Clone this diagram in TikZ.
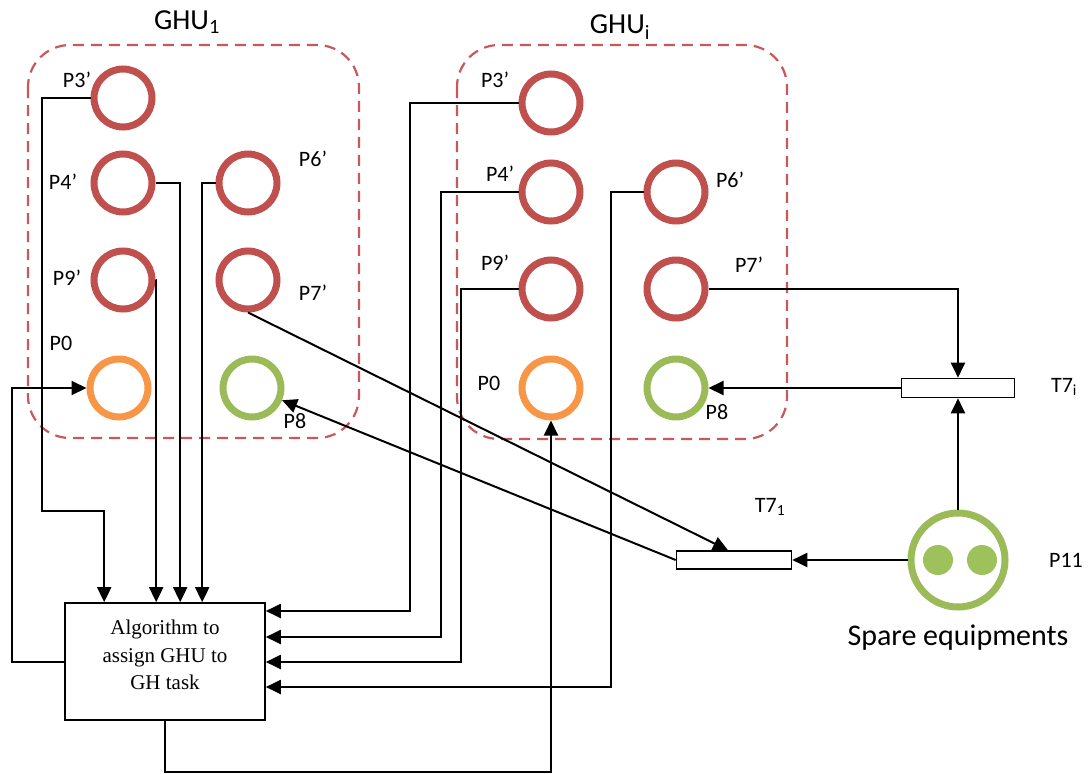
\documentclass[tikz,border=0pt]{standalone}
\usepackage{fontspec}
\setmainfont{Carlito}
\newfontfamily\tnr{Liberation Serif}
\usetikzlibrary{arrows.meta}
\definecolor{ringred}{HTML}{C0504D}
\definecolor{ringorange}{HTML}{F79646}
\definecolor{ringgreen}{HTML}{9BBB59}
\definecolor{tokgreen}{HTML}{9DC25C}
\definecolor{boxred}{HTML}{C9585A}
\begin{document}
\begin{tikzpicture}[x=1pt,y=-1pt,
  place/.style={circle,draw=#1,line width=7pt,minimum size=58pt,inner sep=0pt},
  lbl/.style={font=\fontsize{22}{26}\selectfont,inner sep=0pt},
  ghu/.style={draw=boxred,line width=2.2pt,dash pattern=on 11pt off 7pt,rounded corners=42pt},
  trans/.style={draw,fill=white,line width=1.6pt,minimum height=19pt,inner sep=0pt},
  conn/.style={line width=2pt},
  arr/.style={conn,-{Triangle[length=15pt,width=14pt]}},
  token/.style={circle,fill=tokgreen,minimum size=30pt,inner sep=0pt}
]
\useasboundingbox (0,0) rectangle (1088,774);
% group boxes
\draw[ghu] (28,45) rectangle (359,438);
\draw[ghu] (457,45) rectangle (787,439);
\node[font=\fontsize{29}{32}\selectfont] (ghu1) at (187,22) {GHU\textsubscript{1}};
\node[font=\fontsize{29}{32}\selectfont] (ghui) at (620,27) {GHU\textsubscript{i}};
% places GHU1
\node[place=ringred] (p3a) at (123,98) {};
\node[place=ringred] (p4a) at (123,183) {};
\node[place=ringred] (p9a) at (123,280) {};
\node[place=ringorange] (p0a) at (119,388) {};
\node[place=ringred] (p6a) at (248,183) {};
\node[place=ringred] (p7a) at (248,280) {};
\node[place=ringgreen] (p8a) at (252,388) {};
\node[lbl] (lp3a) at (77,80) {P3’};
\node[lbl] (lp4a) at (63,182) {P4’};
\node[lbl] (lp9a) at (67,278) {P9’};
\node[lbl] (lp0a) at (61,343) {P0};
\node[lbl] (lp6a) at (313,159) {P6’};
\node[lbl] (lp7a) at (313,293) {P7’};
\node[lbl] (lp8a) at (295,421) {P8};
% places GHUi
\node[place=ringred] (p3b) at (551,103) {};
\node[place=ringred] (p4b) at (551,192) {};
\node[place=ringred] (p9b) at (551,289) {};
\node[place=ringorange] (p0b) at (551,388) {};
\node[place=ringred] (p6b) at (676,192) {};
\node[place=ringred] (p7b) at (676,289) {};
\node[place=ringgreen] (p8b) at (676,388) {};
\node[lbl] (lp3b) at (495,80) {P3’};
\node[lbl] (lp4b) at (500,174) {P4’};
\node[lbl] (lp9b) at (495,263) {P9’};
\node[lbl] (lp0b) at (489,383) {P0};
\node[lbl] (lp6b) at (730,180) {P6’};
\node[lbl] (lp7b) at (749,265) {P7’};
\node[lbl] (lp8b) at (717,412) {P8};
% transitions
\node[trans,minimum width=113pt] (t7i) at (958,388) {};
\node[trans,minimum width=115pt,minimum height=18pt] (t71) at (734,560) {};
\node[lbl] (lt7i) at (1064,387) {T7\textsubscript{i}};
\node[lbl] (lt71) at (770,507) {T7\textsubscript{1}};
% spare equipment
\node[place=ringgreen,minimum size=94pt] (p11) at (958,560) {};
\node[token] (tk1) at (938,560) {};
\node[token] (tk2) at (982,560) {};
\node[lbl] (lp11) at (1066,560) {P11};
\node[font=\fontsize{30}{34}\selectfont] (spare) at (958,638) {Spare equipments};
% algorithm box
\node[draw,line width=1.6pt,minimum width=200pt,minimum height=117pt,inner sep=0pt] (alg) at (165,661.5) {};
\node[align=center,font=\tnr\fontsize{21}{27.5}\selectfont] (algt) at (165,655) {Algorithm to\\assign GHU to\\GH task};
% waypoints
\coordinate (w3a) at (42,511);
\coordinate (r1) at (410,611);
\coordinate (r2) at (441,637);
\coordinate (r3) at (461,662);
\coordinate (r4) at (611,687);
\coordinate (ybot) at (0,772);
% connectors GHU1 -> algorithm
\draw[arr] (p3a.west) -| (w3a) -| ([xshift=40pt]alg.north west);
\draw[arr] (p9a.east) -| ([xshift=92pt]alg.north west);
\draw[arr] (p4a.east) -| ([xshift=116pt]alg.north west);
\draw[arr] (p6a.west) -| ([xshift=138pt]alg.north west);
% algorithm -> P0
\draw[arr] (alg.west) -- ++(-52,0) |- (p0a.west);
\draw[arr] (alg.south) |- (p0b.south |- ybot) -- (p0b.south);
% GHUi -> algorithm
\draw[arr] (p3b.west) -| (r1) -- (alg.east |- r1);
\draw[arr] (p4b.west) -| (r2) -- (alg.east |- r2);
\draw[arr] (p9b.west) -| (r3) -- (alg.east |- r3);
\draw[arr] (p6b.west) -| (r4) -- (alg.east |- r4);
% transitions
\draw[arr] (p7b.east) -| (t7i.north);
\draw[arr] (t7i.west) -- (p8b.east);
\draw[arr] (p11.north) -- (t7i.south);
\draw[arr] (p11.west) -- (t71.east);
\draw[arr] (p7a.south) -- ([xshift=-6pt]t71.north);
\draw[arr] (t71.west) -- (p8a);
\end{tikzpicture}
\end{document}
